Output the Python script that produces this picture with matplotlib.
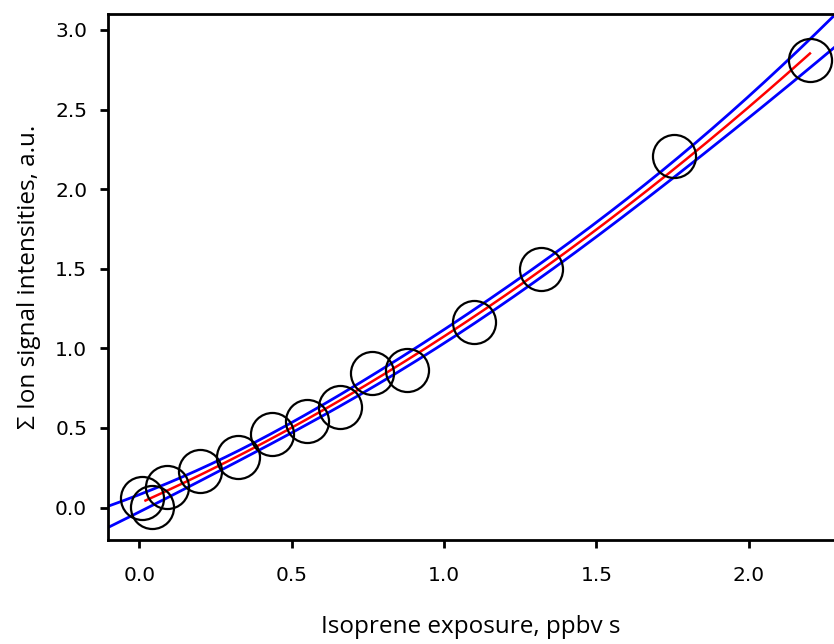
import matplotlib
matplotlib.use("Agg")
import matplotlib.pyplot as plt
import numpy as np

# values
exposure = np.array([0.008, 0.042, 0.090, 0.199, 0.325, 0.434, 0.550, 0.658,
                     0.763, 0.879, 1.099, 1.318, 1.756, 2.201])
intensity = np.array([0.058, 0.006, 0.131, 0.232, 0.320, 0.460, 0.545, 0.634,
                      0.844, 0.864, 1.168, 1.499, 2.210, 2.811])

x_ticks = [0.0, 0.5, 1.0, 1.5, 2.0]
y_ticks = [0.0, 0.5, 1.0, 1.5, 2.0, 2.5, 3.0]
t_975 = 2.179  # 95 % two-sided t value


def quad_fit(x, y, x_grid):
    design = np.vstack([np.ones_like(x), x, x ** 2]).T
    beta, _, _, _ = np.linalg.lstsq(design, y, rcond=None)
    resid = y - design @ beta
    s2 = resid @ resid / (len(x) - 3)
    cov = s2 * np.linalg.inv(design.T @ design)
    grid = np.vstack([np.ones_like(x_grid), x_grid, x_grid ** 2]).T
    fit = grid @ beta
    se = np.sqrt(np.einsum("ij,jk,ik->i", grid, cov, grid))
    return fit, se


xlim = (-0.103, 2.28)
ylim = (-0.2035, 3.10)

fit_x = np.linspace(exposure.min() + 0.012, exposure.max(), 200)
band_x = np.linspace(xlim[0], xlim[1] + 0.02, 300)
fit_y, _ = quad_fit(exposure, intensity, fit_x)
band_y, band_se = quad_fit(exposure, intensity, band_x)

fig = plt.figure(figsize=(8.34, 6.44), dpi=100)
ax = fig.add_axes([0.1295, 0.1615, 0.8705, 0.8168])

ax.plot(band_x, band_y + t_975 * band_se, color="#0000ff", lw=2.0)
ax.plot(band_x, band_y - t_975 * band_se, color="#0000ff", lw=2.0)
ax.plot(fit_x, fit_y, color="#ff0000", lw=1.8)
ax.plot(exposure, intensity, "o", ms=31, mfc="none", mec="black", mew=1.6)

ax.set_xlim(*xlim)
ax.set_ylim(*ylim)
ax.set_xticks(x_ticks)
ax.set_yticks(y_ticks)
ax.set_xticklabels([f"{v:.1f}" for v in x_ticks])
ax.set_yticklabels([f"{v:.1f}" for v in y_ticks])

for side in ["left", "top", "bottom"]:
    ax.spines[side].set_linewidth(2.0)
ax.spines["right"].set_visible(False)

ax.tick_params(axis="both", direction="out", length=6, width=2.0,
               labelsize=14.5, colors="black")
ax.tick_params(axis="x", pad=13)
ax.tick_params(axis="y", pad=9)

ax.set_xlabel("Isoprene exposure, ppbv s", fontsize=17.5, family="Open Sans",
              labelpad=21)
ax.set_ylabel("\u03a3 Ion signal intensities, a.u.", fontsize=17.5,
              family="Open Sans", labelpad=10)

fig.savefig("out.png", dpi=100)
